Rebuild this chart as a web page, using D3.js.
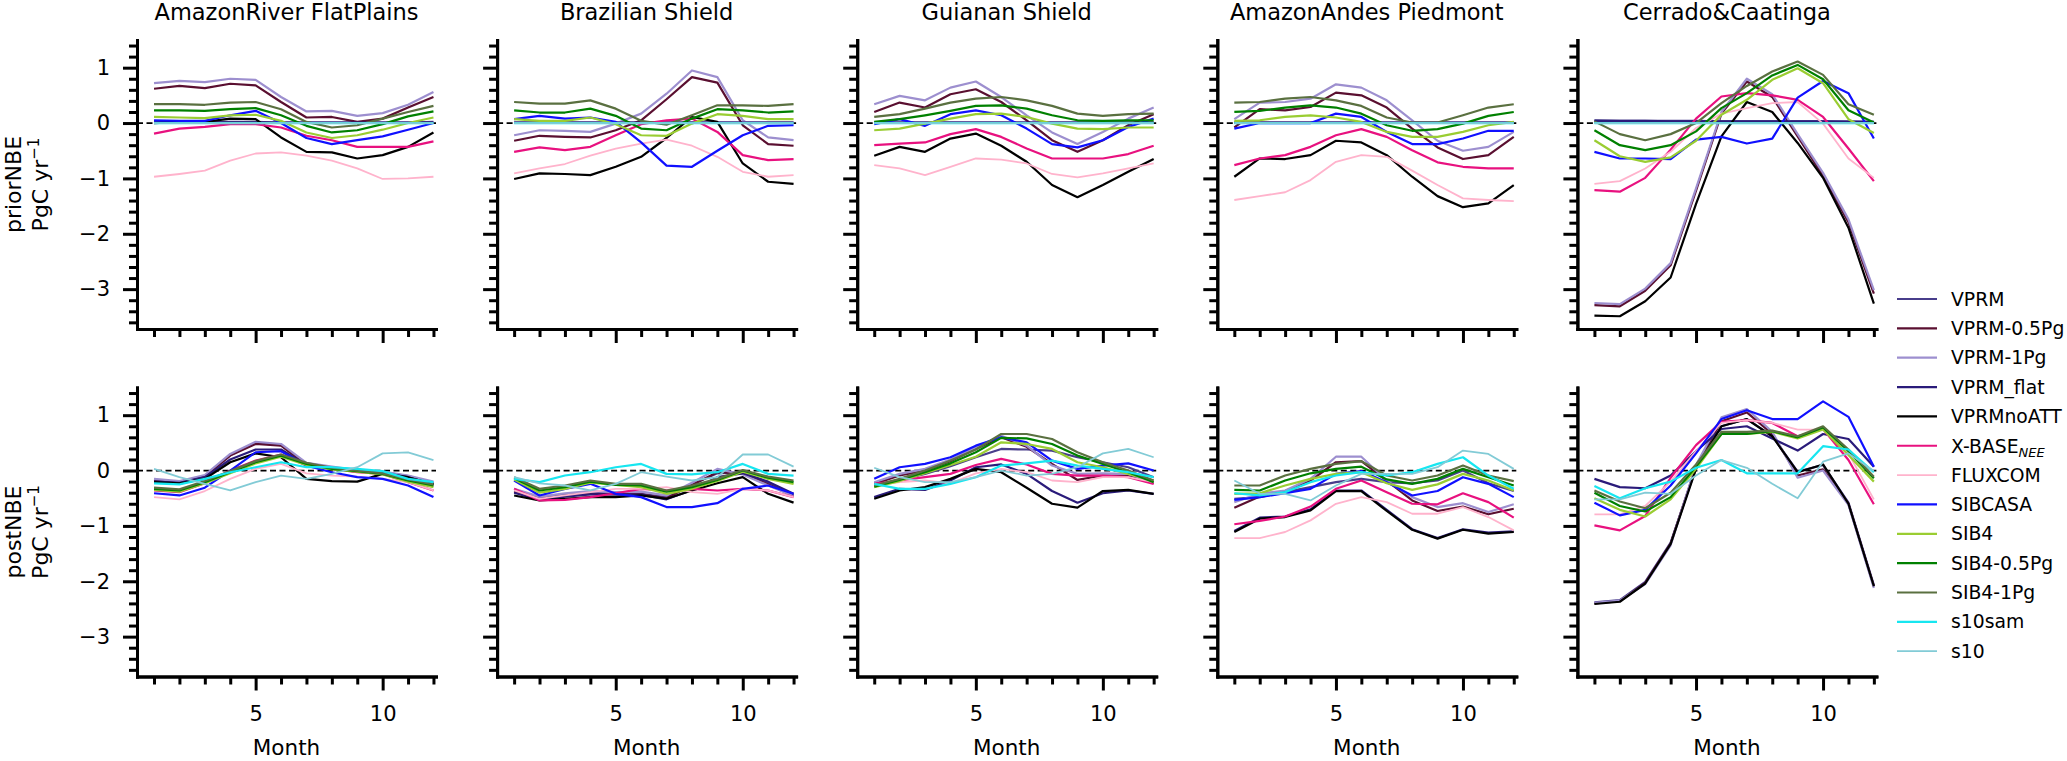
<!DOCTYPE html>
<html>
<head>
<meta charset="utf-8">
<script src="https://cdn.jsdelivr.net/npm/d3@7"></script>
<style>
  body { margin: 0; background: #fff; }
  svg { display: block; }
</style>
</head>
<body>
<svg id="chart" width="2067" height="761"></svg>
<script>
'use strict';

// ---- data ----
const months = [1, 2, 3, 4, 5, 6, 7, 8, 9, 10, 11, 12];
const regions = ['AmazonRiver FlatPlains', 'Brazilian Shield', 'Guianan Shield', 'AmazonAndes Piedmont', 'Cerrado&Caatinga'];
const seriesNames = ['VPRM', 'VPRM-0.5Pg', 'VPRM-1Pg', 'VPRM_flat', 'VPRMnoATT', 'X-BASE', 'FLUXCOM',
                     'SIBCASA', 'SIB4', 'SIB4-0.5Pg', 'SIB4-1Pg', 's10sam', 's10'];
const seriesColors = ['#483d8b', '#5a0f30', '#9d8fcf', '#2a1b7a', '#000000', '#e8117f', '#ffb3cc',
                      '#1010ff', '#9acd32', '#008000', '#5a7040', '#17e6f0', '#82cbd6'];
const yMajorTicks = [-3, -2, -1, 0, 1];
const xMajorTicks = [5, 10];

// prior NBE, rows in seriesNames order
const priorFlatPlains = [
  [0.02, 0.02, 0.02, 0.02, 0.02, 0.01, 0.01, 0.01, 0.01, 0.01, 0.01, 0.02],
  [0.62, 0.67, 0.63, 0.71, 0.68, 0.38, 0.10, 0.11, 0.02, 0.08, 0.28, 0.47],
  [0.72, 0.76, 0.74, 0.80, 0.78, 0.47, 0.21, 0.22, 0.13, 0.18, 0.33, 0.56],
  [0.01, 0.01, 0.01, 0.01, 0.01, 0.01, 0.01, 0.01, 0.01, 0.01, 0.01, 0.01],
  [0.00, 0.02, 0.02, 0.08, 0.07, -0.26, -0.52, -0.53, -0.64, -0.58, -0.43, -0.17],
  [-0.19, -0.10, -0.07, -0.02, -0.02, -0.08, -0.23, -0.31, -0.43, -0.43, -0.43, -0.33],
  [-0.97, -0.92, -0.86, -0.68, -0.55, -0.53, -0.59, -0.68, -0.82, -1.01, -1.00, -0.97],
  [0.05, 0.04, 0.04, 0.14, 0.22, 0.00, -0.27, -0.38, -0.31, -0.24, -0.12, 0.00],
  [0.11, 0.10, 0.09, 0.14, 0.15, 0.04, -0.17, -0.27, -0.22, -0.12, 0.00, 0.10],
  [0.23, 0.23, 0.22, 0.25, 0.27, 0.14, -0.05, -0.17, -0.13, -0.02, 0.12, 0.21],
  [0.34, 0.34, 0.33, 0.37, 0.38, 0.25, 0.02, -0.08, -0.04, 0.08, 0.20, 0.31],
  [0, 0, 0, 0, 0, 0, 0, 0, 0, 0, 0, 0],
  [0, 0, 0, 0, 0, 0, 0, 0, 0, 0, 0, 0]
];
const priorBrazilian = [
  [0.01, 0.01, 0.01, 0.01, 0.01, 0.01, 0.01, 0.01, 0.01, 0.01, 0.01, 0.01],
  [-0.32, -0.23, -0.25, -0.26, -0.13, 0.05, 0.43, 0.83, 0.73, -0.04, -0.38, -0.41],
  [-0.22, -0.13, -0.14, -0.16, -0.01, 0.17, 0.53, 0.95, 0.83, 0.05, -0.26, -0.31],
  [0.01, 0.01, 0.01, 0.01, 0.01, 0.01, 0.01, 0.01, 0.01, 0.01, 0.01, 0.01],
  [-1.01, -0.91, -0.92, -0.94, -0.79, -0.61, -0.27, 0.11, 0.02, -0.73, -1.06, -1.10],
  [-0.52, -0.44, -0.49, -0.43, -0.22, -0.02, 0.05, 0.08, -0.16, -0.58, -0.67, -0.65],
  [-0.91, -0.82, -0.74, -0.59, -0.46, -0.37, -0.30, -0.41, -0.61, -0.88, -0.97, -0.94],
  [0.07, 0.13, 0.08, 0.10, 0.02, -0.35, -0.77, -0.79, -0.50, -0.22, -0.05, -0.04],
  [0.07, 0.04, 0.04, 0.10, -0.02, -0.22, -0.23, -0.01, 0.16, 0.13, 0.07, 0.07],
  [0.23, 0.19, 0.19, 0.26, 0.13, -0.10, -0.13, 0.08, 0.25, 0.23, 0.19, 0.21],
  [0.38, 0.35, 0.35, 0.41, 0.26, 0.04, -0.03, 0.14, 0.32, 0.32, 0.31, 0.34],
  [0, 0, 0, 0, 0, 0, 0, 0, 0, 0, 0, 0],
  [0, 0, 0, 0, 0, 0, 0, 0, 0, 0, 0, 0]
];
const priorGuianan = [
  [0.01, 0.01, 0.01, 0.01, 0.01, 0.01, 0.01, 0.01, 0.01, 0.01, 0.01, 0.01],
  [0.20, 0.37, 0.28, 0.52, 0.61, 0.38, 0.05, -0.31, -0.52, -0.31, -0.04, 0.16],
  [0.34, 0.49, 0.41, 0.64, 0.75, 0.47, 0.14, -0.17, -0.38, -0.16, 0.08, 0.28],
  [0.01, 0.01, 0.01, 0.01, 0.01, 0.01, 0.01, 0.01, 0.01, 0.01, 0.01, 0.01],
  [-0.59, -0.43, -0.52, -0.28, -0.19, -0.41, -0.70, -1.12, -1.34, -1.12, -0.88, -0.65],
  [-0.40, -0.37, -0.35, -0.20, -0.11, -0.25, -0.46, -0.64, -0.64, -0.64, -0.56, -0.41],
  [-0.76, -0.82, -0.94, -0.79, -0.64, -0.66, -0.73, -0.92, -0.98, -0.91, -0.82, -0.73],
  [-0.02, 0.07, -0.05, 0.16, 0.23, 0.14, -0.10, -0.38, -0.44, -0.31, -0.07, 0.08],
  [-0.13, -0.10, -0.01, 0.08, 0.16, 0.17, 0.11, -0.01, -0.10, -0.11, -0.08, -0.08],
  [0.02, 0.07, 0.14, 0.22, 0.31, 0.32, 0.26, 0.14, 0.05, 0.04, 0.05, 0.05],
  [0.11, 0.16, 0.26, 0.37, 0.44, 0.47, 0.41, 0.31, 0.17, 0.13, 0.16, 0.17],
  [0, 0, 0, 0, 0, 0, 0, 0, 0, 0, 0, 0],
  [0, 0, 0, 0, 0, 0, 0, 0, 0, 0, 0, 0]
];
const priorAndes = [
  [0.01, 0.01, 0.01, 0.01, 0.01, 0.01, 0.01, 0.01, 0.01, 0.01, 0.01, 0.01],
  [-0.08, 0.25, 0.23, 0.29, 0.55, 0.50, 0.28, -0.10, -0.44, -0.65, -0.58, -0.25],
  [0.07, 0.37, 0.38, 0.44, 0.70, 0.64, 0.41, 0.05, -0.32, -0.50, -0.43, -0.16],
  [0.01, 0.01, 0.01, 0.01, 0.01, 0.01, 0.01, 0.01, 0.01, 0.01, 0.01, 0.01],
  [-0.97, -0.64, -0.65, -0.58, -0.32, -0.35, -0.58, -0.97, -1.32, -1.52, -1.45, -1.12],
  [-0.76, -0.64, -0.58, -0.43, -0.22, -0.11, -0.25, -0.49, -0.71, -0.79, -0.82, -0.82],
  [-1.39, -1.32, -1.25, -1.03, -0.70, -0.58, -0.61, -0.86, -1.12, -1.36, -1.39, -1.41],
  [-0.10, 0.00, 0.00, 0.00, 0.17, 0.11, -0.16, -0.38, -0.38, -0.28, -0.14, -0.14],
  [0.04, 0.05, 0.11, 0.14, 0.10, 0.02, -0.16, -0.25, -0.25, -0.16, -0.04, 0.02],
  [0.20, 0.22, 0.28, 0.32, 0.28, 0.17, -0.04, -0.14, -0.11, -0.01, 0.13, 0.20],
  [0.37, 0.38, 0.44, 0.47, 0.41, 0.31, 0.10, 0.01, 0.01, 0.14, 0.28, 0.34],
  [0, 0, 0, 0, 0, 0, 0, 0, 0, 0, 0, 0],
  [0, 0, 0, 0, 0, 0, 0, 0, 0, 0, 0, 0]
];
const priorCerrado = [
  [0.05, 0.04, 0.04, 0.04, 0.04, 0.03, 0.03, 0.03, 0.03, 0.03, 0.03, 0.02],
  [-3.29, -3.31, -3.03, -2.57, -1.22, 0.17, 0.75, 0.47, -0.24, -0.95, -1.79, -3.08],
  [-3.25, -3.27, -2.99, -2.53, -1.18, 0.20, 0.80, 0.52, -0.20, -0.90, -1.74, -3.02],
  [0.04, 0.04, 0.04, 0.03, 0.03, 0.03, 0.03, 0.03, 0.03, 0.03, 0.02, 0.02],
  [-3.48, -3.49, -3.22, -2.79, -1.46, -0.24, 0.38, 0.20, -0.36, -0.99, -1.89, -3.26],
  [-1.21, -1.24, -0.99, -0.48, 0.08, 0.48, 0.54, 0.50, 0.42, 0.11, -0.46, -1.05],
  [-1.10, -1.05, -0.82, -0.52, -0.09, 0.17, 0.27, 0.36, 0.38, -0.01, -0.64, -0.99],
  [-0.52, -0.64, -0.64, -0.65, -0.30, -0.25, -0.37, -0.28, 0.46, 0.76, 0.54, -0.28],
  [-0.31, -0.60, -0.70, -0.62, -0.32, 0.15, 0.42, 0.78, 0.99, 0.72, 0.07, -0.18],
  [-0.13, -0.40, -0.49, -0.40, -0.15, 0.27, 0.54, 0.86, 1.05, 0.79, 0.23, 0.01],
  [0.03, -0.20, -0.31, -0.20, 0.00, 0.36, 0.67, 0.93, 1.11, 0.87, 0.34, 0.15],
  [0, 0, 0, 0, 0, 0, 0, 0, 0, 0, 0, 0],
  [0, 0, 0, 0, 0, 0, 0, 0, 0, 0, 0, 0]
];

// posterior NBE
const postFlatPlains = [
  [-0.17, -0.21, -0.10, 0.28, 0.50, 0.46, 0.12, 0.06, 0.00, -0.03, -0.10, -0.22],
  [-0.19, -0.22, -0.11, 0.27, 0.48, 0.45, 0.10, 0.04, -0.01, -0.04, -0.12, -0.24],
  [-0.15, -0.19, -0.08, 0.30, 0.52, 0.48, 0.14, 0.07, 0.01, -0.02, -0.09, -0.20],
  [-0.20, -0.22, -0.12, 0.20, 0.38, 0.38, 0.10, 0.03, -0.02, -0.04, -0.12, -0.25],
  [-0.21, -0.23, -0.15, 0.15, 0.31, 0.24, -0.15, -0.19, -0.20, -0.06, -0.12, -0.25],
  [-0.36, -0.39, -0.23, 0.00, 0.18, 0.29, 0.09, 0.03, -0.03, -0.06, -0.21, -0.36],
  [-0.48, -0.52, -0.37, -0.15, 0.03, 0.12, -0.05, -0.09, -0.11, -0.15, -0.21, -0.36],
  [-0.41, -0.45, -0.31, 0.00, 0.33, 0.35, 0.09, -0.03, -0.12, -0.15, -0.27, -0.48],
  [-0.35, -0.38, -0.23, -0.05, 0.13, 0.25, 0.10, 0.02, -0.02, -0.07, -0.20, -0.30],
  [-0.33, -0.36, -0.21, -0.03, 0.15, 0.27, 0.12, 0.03, -0.01, -0.06, -0.18, -0.27],
  [-0.31, -0.34, -0.19, -0.01, 0.17, 0.29, 0.14, 0.05, 0.00, -0.05, -0.16, -0.25],
  [-0.23, -0.25, -0.15, -0.03, 0.06, 0.15, 0.06, 0.06, 0.03, -0.01, -0.15, -0.21],
  [0.03, -0.12, -0.24, -0.36, -0.21, -0.09, -0.15, -0.06, 0.06, 0.31, 0.33, 0.19]
];
const postBrazilian = [
  [-0.36, -0.50, -0.44, -0.40, -0.42, -0.42, -0.48, -0.25, -0.05, -0.03, -0.22, -0.45],
  [-0.38, -0.52, -0.46, -0.42, -0.43, -0.43, -0.50, -0.26, -0.03, -0.05, -0.25, -0.46],
  [-0.33, -0.47, -0.41, -0.37, -0.39, -0.38, -0.45, -0.22, 0.03, -0.07, -0.27, -0.46],
  [-0.40, -0.53, -0.47, -0.43, -0.43, -0.44, -0.52, -0.35, -0.12, -0.05, -0.20, -0.42],
  [-0.45, -0.54, -0.51, -0.48, -0.48, -0.45, -0.51, -0.36, -0.23, -0.12, -0.42, -0.58],
  [-0.33, -0.54, -0.53, -0.48, -0.41, -0.33, -0.36, -0.33, -0.36, -0.33, -0.36, -0.48],
  [-0.36, -0.51, -0.45, -0.39, -0.33, -0.33, -0.30, -0.39, -0.42, -0.33, -0.36, -0.48],
  [-0.18, -0.45, -0.33, -0.24, -0.42, -0.48, -0.66, -0.66, -0.59, -0.33, -0.27, -0.42],
  [-0.16, -0.40, -0.33, -0.22, -0.26, -0.30, -0.42, -0.33, -0.19, -0.02, -0.15, -0.24],
  [-0.14, -0.36, -0.30, -0.20, -0.26, -0.27, -0.38, -0.30, -0.17, 0.00, -0.13, -0.21],
  [-0.12, -0.33, -0.27, -0.18, -0.24, -0.24, -0.36, -0.27, -0.15, 0.01, -0.11, -0.18],
  [-0.15, -0.21, -0.09, -0.03, 0.06, 0.12, -0.06, -0.07, -0.03, 0.12, -0.06, -0.09],
  [-0.12, -0.23, -0.27, -0.36, -0.24, -0.03, -0.11, -0.18, -0.12, 0.29, 0.29, 0.07]
];
const postGuianan = [
  [-0.27, -0.17, -0.06, 0.08, 0.24, 0.39, 0.38, 0.36, 0.24, 0.15, 0.06, -0.12],
  [-0.24, -0.09, 0.00, 0.17, 0.39, 0.60, 0.43, 0.12, -0.17, -0.09, -0.09, -0.23],
  [-0.21, -0.06, 0.03, 0.20, 0.42, 0.63, 0.45, 0.09, -0.06, -0.05, -0.06, -0.21],
  [-0.48, -0.33, -0.35, -0.18, 0.06, 0.11, -0.06, -0.37, -0.58, -0.41, -0.36, -0.42],
  [-0.51, -0.36, -0.30, -0.15, 0.03, -0.03, -0.31, -0.60, -0.67, -0.37, -0.35, -0.42],
  [-0.24, -0.18, -0.12, -0.06, 0.10, 0.21, 0.11, -0.06, -0.09, -0.09, -0.12, -0.24],
  [-0.27, -0.21, -0.18, -0.23, -0.05, 0.03, -0.03, -0.18, -0.21, -0.12, -0.12, -0.21],
  [-0.15, 0.06, 0.12, 0.24, 0.45, 0.60, 0.51, 0.18, 0.03, 0.09, 0.13, 0.00],
  [-0.30, -0.19, -0.05, 0.10, 0.25, 0.51, 0.48, 0.39, 0.15, 0.06, -0.06, -0.18],
  [-0.29, -0.17, -0.03, 0.13, 0.33, 0.59, 0.58, 0.48, 0.27, 0.12, -0.03, -0.21],
  [-0.27, -0.15, 0.00, 0.18, 0.38, 0.66, 0.66, 0.57, 0.33, 0.15, 0.00, -0.18],
  [-0.24, -0.33, -0.33, -0.24, -0.12, 0.09, 0.13, 0.18, 0.09, 0.03, -0.03, -0.12],
  [0.05, -0.12, -0.21, -0.21, -0.12, 0.00, -0.09, -0.06, 0.06, 0.31, 0.39, 0.24]
];
const postAndes = [
  [-0.51, -0.48, -0.39, -0.30, -0.21, -0.15, -0.21, -0.23, -0.18, 0.00, -0.23, -0.37],
  [-0.67, -0.47, -0.37, -0.18, 0.15, 0.17, -0.18, -0.54, -0.73, -0.65, -0.79, -0.69],
  [-0.57, -0.42, -0.36, -0.15, 0.25, 0.25, -0.18, -0.48, -0.66, -0.59, -0.75, -0.61],
  [-1.09, -0.85, -0.83, -0.70, -0.36, -0.36, -0.71, -1.06, -1.22, -1.06, -1.12, -1.10],
  [-1.11, -0.87, -0.84, -0.72, -0.37, -0.37, -0.73, -1.07, -1.23, -1.07, -1.14, -1.11],
  [-0.97, -0.91, -0.83, -0.65, -0.33, -0.18, -0.39, -0.60, -0.61, -0.41, -0.57, -0.85],
  [-1.22, -1.22, -1.11, -0.90, -0.60, -0.48, -0.57, -0.78, -0.78, -0.66, -0.84, -1.08],
  [-0.53, -0.48, -0.41, -0.33, -0.06, -0.01, -0.21, -0.45, -0.37, -0.12, -0.24, -0.48],
  [-0.42, -0.41, -0.27, -0.15, -0.06, -0.03, -0.23, -0.35, -0.25, -0.06, -0.18, -0.36],
  [-0.35, -0.36, -0.18, -0.05, 0.03, 0.07, -0.16, -0.24, -0.15, 0.03, -0.12, -0.27],
  [-0.27, -0.27, -0.09, 0.03, 0.12, 0.17, -0.09, -0.18, -0.09, 0.09, -0.09, -0.19],
  [-0.41, -0.45, -0.39, -0.21, -0.09, -0.03, -0.09, -0.03, 0.12, 0.24, -0.09, -0.33],
  [-0.18, -0.42, -0.42, -0.54, -0.27, -0.06, -0.06, -0.06, 0.06, 0.36, 0.30, 0.03]
];
const postCerrado = [
  [-2.38, -2.34, -2.01, -1.30, 0.05, 0.80, 0.93, 0.62, -0.02, 0.10, -0.58, -2.07],
  [-2.40, -2.36, -2.03, -1.32, 0.08, 0.89, 1.05, 0.66, -0.09, 0.02, -0.60, -2.09],
  [-2.39, -2.35, -2.05, -1.35, 0.10, 0.96, 1.11, 0.70, -0.13, 0.00, -0.62, -2.12],
  [-0.15, -0.30, -0.32, -0.09, 0.35, 0.75, 0.80, 0.58, 0.36, 0.66, 0.57, 0.07],
  [-2.41, -2.37, -2.04, -1.33, 0.03, 0.80, 0.93, 0.62, -0.03, 0.11, -0.60, -2.09],
  [-0.99, -1.08, -0.82, -0.13, 0.46, 0.88, 0.91, 0.86, 0.62, 0.75, 0.19, -0.61],
  [-0.79, -0.79, -0.64, -0.20, 0.35, 0.86, 0.91, 0.86, 0.74, 0.74, 0.31, -0.52],
  [-0.58, -0.81, -0.71, -0.27, 0.31, 0.93, 1.09, 0.93, 0.93, 1.25, 0.97, 0.07],
  [-0.50, -0.71, -0.83, -0.52, 0.03, 0.66, 0.66, 0.70, 0.58, 0.74, 0.28, -0.20],
  [-0.40, -0.64, -0.74, -0.48, 0.07, 0.66, 0.66, 0.71, 0.60, 0.78, 0.35, -0.14],
  [-0.36, -0.56, -0.68, -0.40, 0.11, 0.70, 0.70, 0.72, 0.62, 0.80, 0.38, -0.11],
  [-0.28, -0.50, -0.32, -0.20, 0.05, 0.19, -0.05, -0.05, -0.05, 0.44, 0.38, -0.03],
  [-0.52, -0.52, -0.40, -0.42, -0.09, 0.19, 0.05, -0.24, -0.50, 0.16, 0.31, -0.01]
];

const priorData = [priorFlatPlains, priorBrazilian, priorGuianan, priorAndes, priorCerrado];
const postData = [postFlatPlains, postBrazilian, postGuianan, postAndes, postCerrado];

// ---- layout ----
const font = '"DejaVu Sans", sans-serif';
const panelX0 = 137, panelStep = 360.1, panelW = 299, panelH = 289;
const rowTops = [40, 387.5];
const rowLabels = ['priorNBE', 'postNBE'];
const rowData = [priorData, postData];

const svg = d3.select('#chart');

const x = d3.scaleLinear().domain([0.33, 12.1]).range([0, panelW]);
const y = d3.scaleLinear().domain([-3.72, 1.5]).range([panelH, 0]);
const lineGen = d3.line().x((d, i) => x(months[i])).y(d => y(d));

const yMinorTicks = d3.range(-18, 8).map(k => +(k * 0.2).toFixed(1)).filter(v => !Number.isInteger(v));
const xMinorTicks = months.filter(m => !xMajorTicks.includes(m));

function styleAxis(g) {
  g.select('.domain').attr('stroke-width', 3).attr('stroke-linecap', 'square');
  g.selectAll('.tick line').attr('stroke-width', 3);
  g.selectAll('.tick text').attr('font-size', 21).attr('font-family', font).attr('fill', '#000');
}

rowData.forEach((panels, r) => {
  panels.forEach((series, p) => {
    const g = svg.append('g')
      .attr('transform', `translate(${panelX0 + p * panelStep},${rowTops[r]})`);

    // zero line
    g.append('line')
      .attr('x1', 0).attr('x2', panelW)
      .attr('y1', y(0)).attr('y2', y(0))
      .attr('stroke', '#000').attr('stroke-width', 1.8)
      .attr('stroke-dasharray', '6,3.5');

    // series lines
    g.selectAll('path.series')
      .data(series)
      .join('path')
      .attr('class', 'series')
      .attr('d', d => lineGen(d))
      .attr('fill', 'none')
      .attr('stroke', (d, i) => seriesColors[i])
      .attr('stroke-width', (d, i) => (seriesNames[i] === 's10' || seriesNames[i] === 'FLUXCOM') ? 1.8 : 2.2)
      .attr('stroke-linejoin', 'round');

    // y axis
    g.append('g')
      .call(d3.axisLeft(y).tickValues(yMinorTicks).tickSize(8).tickSizeOuter(0).tickFormat(''))
      .call(styleAxis);
    g.append('g')
      .call(d3.axisLeft(y).tickValues(yMajorTicks).tickSize(14).tickSizeOuter(0).tickPadding(13)
        .tickFormat(p === 0 ? d3.format('d') : ''))
      .call(styleAxis);

    // x axis
    g.append('g')
      .attr('transform', `translate(0,${panelH})`)
      .call(d3.axisBottom(x).tickValues(xMinorTicks).tickSize(8).tickSizeOuter(0).tickFormat(''))
      .call(styleAxis);
    g.append('g')
      .attr('transform', `translate(0,${panelH})`)
      .call(d3.axisBottom(x).tickValues(xMajorTicks).tickSize(14).tickSizeOuter(0).tickPadding(16)
        .tickFormat(r === 1 ? d3.format('d') : ''))
      .call(styleAxis);

    if (r === 0) {
      g.append('text')
        .attr('x', panelW / 2).attr('y', 20 - rowTops[0])
        .attr('text-anchor', 'middle')
        .attr('font-family', font).attr('font-size', 22.5)
        .text(regions[p]);
    } else {
      g.append('text')
        .attr('x', panelW / 2).attr('y', 755 - rowTops[1])
        .attr('text-anchor', 'middle')
        .attr('font-family', font).attr('font-size', 21.5)
        .text('Month');
    }
  });

  // y label (two lines)
  const cy = rowTops[r] + panelH / 2;
  svg.append('text')
    .attr('transform', `translate(21,${cy}) rotate(-90)`)
    .attr('text-anchor', 'middle')
    .attr('font-family', font).attr('font-size', 22)
    .text(rowLabels[r]);
  const unit = svg.append('text')
    .attr('transform', `translate(48,${cy}) rotate(-90)`)
    .attr('text-anchor', 'middle')
    .attr('font-family', font).attr('font-size', 22);
  unit.append('tspan').text('PgC yr');
  unit.append('tspan').attr('font-size', 15).attr('dy', -9).text('\u22121');
});

// legend
const legend = svg.append('g');
seriesNames.forEach((name, i) => {
  const ly = 299 + i * 29.35;
  legend.append('line')
    .attr('x1', 1897).attr('x2', 1937).attr('y1', ly).attr('y2', ly)
    .attr('stroke', seriesColors[i])
    .attr('stroke-width', (name === 's10' || name === 'FLUXCOM') ? 1.8 : 2.2);
  const t = legend.append('text')
    .attr('x', 1951).attr('y', ly)
    .attr('dominant-baseline', 'central')
    .attr('font-family', font).attr('font-size', 18.8);
  if (name === 'X-BASE') {
    t.append('tspan').text('X-BASE');
    t.append('tspan').attr('font-size', 13).attr('font-style', 'italic').attr('dy', 6).text('NEE');
  } else {
    t.text(name);
  }
});
</script>
</body>
</html>
